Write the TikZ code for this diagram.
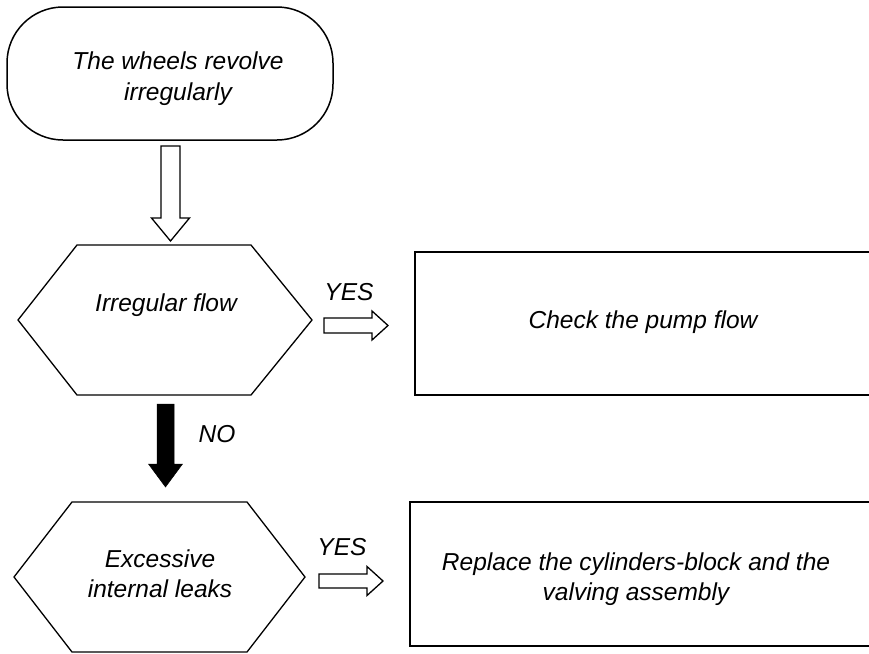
\documentclass[tikz,border=0pt]{standalone}
\usepackage{fontspec}
\setmainfont{Liberation Sans}
\begin{document}
\begin{tikzpicture}[x=1pt,y=-1pt,
  shapeline/.style={draw=black, line width=1.3pt, line join=miter},
  boxline/.style={draw=black, line width=1.9pt, inner sep=0pt},
  lbl/.style={font=\fontsize{24.5}{31}\selectfont\itshape, inner sep=0pt, anchor=base},
  pics/downarr/.style args={#1/#2/#3/#4}{code={
    \path[pic actions] (-#3,0) -- (#3,0) -- (#3,#1) -- (#4,#1) -- (0,#2) -- (-#4,#1) -- (-#3,#1) -- cycle;}},
  pics/rightarr/.style args={#1/#2/#3/#4}{code={
    \path[pic actions] (0,-#3) -- (0,#3) -- (#1,#3) -- (#1,#4) -- (#2,0) -- (#1,-#4) -- (#1,-#3) -- cycle;}}
]
\clip (0,0) rectangle (869,653);
\fill[white] (0,0) rectangle (869,653);

% start terminal
\node[shapeline, line width=1.5pt, rounded corners=56pt, minimum width=326pt, minimum height=133pt, inner sep=0pt] (start) at (170,73.5) {};
\node[lbl] (startA) at (178,69) {The wheels revolve};
\node[lbl] (startB) at (178,100) {irregularly};

% decision 1
\draw[shapeline] (18,320) -- (77,245) -- (251,245) -- (312,320) -- (251,395) -- (77,395) -- cycle;
\coordinate (dec1) at (165,320);
\node[lbl] (dec1t) at (166,311) {Irregular flow};

% action 1
\node[boxline, minimum width=490pt, minimum height=143pt, anchor=north west] (act1) at (414,251) {};
\node[lbl] (act1t) at (643,328) {Check the pump flow};

% decision 2
\draw[shapeline] (14,577) -- (72,502) -- (247,502) -- (305,577) -- (247,652) -- (72,652) -- cycle;
\coordinate (dec2) at (160,577);
\node[lbl] (dec2a) at (160,567) {Excessive};
\node[lbl] (dec2b) at (160,597) {internal leaks};

% action 2
\node[boxline, minimum width=495pt, minimum height=144pt, anchor=north west] (act2) at (409,501) {};
\node[lbl] (act2a) at (636,570) {Replace the cylinders-block and the};
\node[lbl] (act2b) at (636,600) {valving assembly};

% arrows
\pic[shapeline, fill=white] at (170.5,146) {downarr=72/95/9.5/19};
\pic[draw=black, fill=black, line width=0.5pt] at (165.5,404) {downarr=60/83/8.5/17};
\pic[shapeline, fill=white] at (324,325.5) {rightarr=48/64/7.5/14.5};
\pic[shapeline, fill=white] at (319,581) {rightarr=48/64/7/14.5};

% labels
\node[lbl] (yes1) at (349,300) {YES};
\node[lbl] (no1) at (217,442) {NO};
\node[lbl] (yes2) at (342,555) {YES};
\end{tikzpicture}
\end{document}
